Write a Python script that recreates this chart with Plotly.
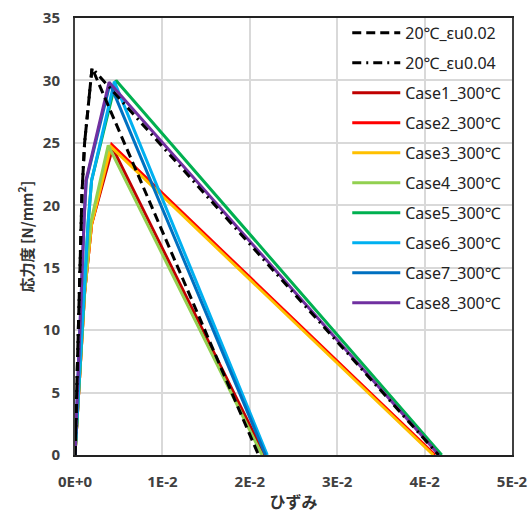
import plotly.graph_objects as go

# ---- data (strain, stress) ----
names = ["20℃_εu0.02", "20℃_εu0.04",
         "Case1_300℃", "Case2_300℃", "Case3_300℃", "Case4_300℃",
         "Case5_300℃", "Case6_300℃", "Case7_300℃", "Case8_300℃"]

bk02_x = [0, 0.0004, 0.0008, 0.0011, 0.0015, 0.00195, 0.0210]
bk02_y = [0, 11.0, 21.0, 25.0, 28.0, 31.0, 0]
bk04_x = [0, 0.0004, 0.0008, 0.0011, 0.0015, 0.00195, 0.0416]
bk04_y = [0, 11.0, 21.0, 25.0, 28.0, 31.0, 0]

c1_x = [0, 0.0011, 0.0019, 0.0043, 0.0217]
c1_y = [0, 13.0, 18.5, 24.6, 0]
c2_x = [0, 0.0011, 0.0019, 0.0042, 0.0412]
c2_y = [0, 13.0, 18.5, 24.85, 0]
c3_x = [0, 0.0011, 0.0019, 0.0041, 0.0410]
c3_y = [0, 13.0, 18.5, 24.7, 0]
c4_x = [0, 0.0011, 0.0018, 0.0038, 0.0214]
c4_y = [0, 13.0, 18.6, 24.8, 0]
c5_x = [0, 0.00095, 0.0015, 0.0019, 0.0047, 0.04196]
c5_y = [0, 12.4, 18.6, 22.0, 30.0, 0]
c6_x = [0, 0.00095, 0.0015, 0.0019, 0.0045, 0.0220]
c6_y = [0, 12.4, 18.6, 22.0, 29.9, 0]
c7_x = [0, 0.0008, 0.00105, 0.0013, 0.0040, 0.0218]
c7_y = [0, 15.0, 19.0, 22.0, 29.75, 0]
c8_x = [0, 0.0008, 0.00105, 0.00126, 0.0039, 0.04165]
c8_y = [0, 15.0, 19.0, 22.0, 29.86, 0]

xtick_vals = [0, 0.01, 0.02, 0.03, 0.04, 0.05]
xtick_text = ["0E+0", "1E-2", "2E-2", "3E-2", "4E-2", "5E-2"]
ytick_vals = [0, 5, 10, 15, 20, 25, 30, 35]

colors = ["black", "black", "#C00000", "#FF0000", "#FFC000", "#92D050",
          "#00B050", "#00B0F0", "#0070C0", "#7030A0"]

series = [(bk02_x, bk02_y), (bk04_x, bk04_y), (c1_x, c1_y), (c2_x, c2_y),
          (c3_x, c3_y), (c4_x, c4_y), (c5_x, c5_y), (c6_x, c6_y),
          (c7_x, c7_y), (c8_x, c8_y)]
dashes = ["9px,5px", "9px,5px,2px,5px"] + ["solid"] * 8

fig = go.Figure()
# draw colored cases first, black reference lines on top
draw_order = list(range(2, 10)) + [0, 1]
for i in draw_order:
    x, y = series[i]
    fig.add_trace(go.Scatter(
        x=x, y=y, mode="lines", name=names[i],
        line=dict(color=colors[i], width=3, dash=dashes[i]),
        legendrank=i + 1, legendgroup="g%d" % i,
    ))

font_main = "Noto Sans, Noto Sans CJK JP"
fig.update_layout(
    width=532, height=513,
    margin=dict(l=75, r=20, t=18, b=58, autoexpand=False),
    paper_bgcolor="white", plot_bgcolor="white",
    showlegend=True,
    legend=dict(
        x=0.623, y=1.005, xanchor="left", yanchor="top",
        bgcolor="rgba(0,0,0,0)", borderwidth=0, maxheight=480,
        font=dict(family=font_main, size=16, color="#222"),
        tracegroupgap=6.2, itemwidth=48, traceorder="grouped",
    ),
    xaxis=dict(
        range=[0, 0.05], tickvals=xtick_vals, ticktext=xtick_text,
        showgrid=True, gridcolor="#D9D9D9", gridwidth=1.5,
        showline=True, linecolor="#222", linewidth=2, mirror=True,
        zeroline=False, ticks="", ticklabelstandoff=12, automargin=False,
        tickfont=dict(family=font_main, size=15, color="#404040", weight="bold"),
        title=dict(text="ひずみ", standoff=10,
                   font=dict(family="Noto Sans CJK JP", size=16, color="#333", weight="bold")),
    ),
    yaxis=dict(
        range=[0, 35], tickvals=ytick_vals,
        showgrid=True, gridcolor="#D9D9D9", gridwidth=1.5,
        showline=True, linecolor="#404040", linewidth=2, mirror=True,
        zeroline=False, ticks="", ticklabelstandoff=10, automargin=False,
        tickfont=dict(family=font_main, size=15, color="#404040", weight="bold"),
        title=dict(text="応力度 [N/mm<sup>2</sup>]", standoff=6,
                   font=dict(family="Noto Sans CJK JP", size=15, color="#333", weight="bold")),
    ),
)

fig.write_html("out.html")
